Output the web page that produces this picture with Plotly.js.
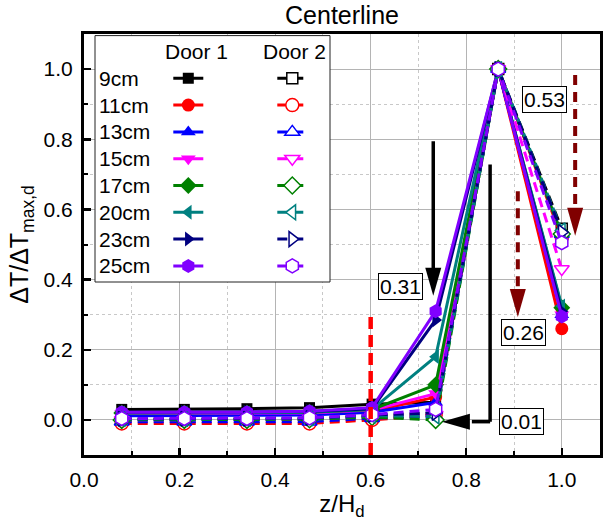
<!DOCTYPE html>
<html><head><meta charset="utf-8">
<script src="https://cdn.plot.ly/plotly-3.0.1.min.js"></script>
<style>html,body{margin:0;padding:0;background:#fff}#chart{width:603px;height:521px}</style>
</head><body><div id="chart"></div>
<script>
// ---- data ----
const zPos = [0.079, 0.210, 0.341, 0.472, 0.603, 0.736, 0.867, 1.0];
const seriesNames = ['9cm', '11cm', '13cm', '15cm', '17cm', '20cm', '23cm', '25cm'];
const seriesColors = ['#000000', '#FF0000', '#0000FF', '#FF00FF', '#008000', '#008080', '#000080', '#8000FF'];
const seriesSymbols = ['square', 'circle', 'triangle-up', 'triangle-down', 'diamond', 'triangle-left', 'triangle-right', 'hexagon'];
const seriesSizes = [11, 13, 13, 13, 13, 13, 13, 14];

// Door 1 (solid, filled)
const door1_9cm  = [0.030, 0.030, 0.032, 0.035, 0.045, 0.050, 1.0, 0.300];
const door1_11cm = [0.015, 0.015, 0.015, 0.017, 0.025, 0.065, 1.0, 0.260];
const door1_13cm = [0.012, 0.012, 0.012, 0.014, 0.022, 0.050, 1.0, 0.300];
const door1_15cm = [0.018, 0.018, 0.018, 0.020, 0.028, 0.075, 1.0, 0.300];
const door1_17cm = [0.020, 0.020, 0.020, 0.022, 0.030, 0.100, 1.0, 0.320];
const door1_20cm = [0.020, 0.020, 0.020, 0.022, 0.030, 0.180, 1.0, 0.325];
const door1_23cm = [0.022, 0.022, 0.022, 0.024, 0.032, 0.285, 1.0, 0.310];
const door1_25cm = [0.022, 0.022, 0.022, 0.025, 0.035, 0.310, 1.0, 0.295];
// Door 2 (dashed, open)
const door2_9cm  = [0.000, 0.000, 0.000, 0.002, 0.010, 0.020, 1.0, 0.545];
const door2_11cm = [-0.010, -0.010, -0.010, -0.010, 0.000, 0.015, 1.0, 0.520];
const door2_13cm = [-0.005, -0.005, -0.005, -0.005, 0.005, 0.010, 1.0, 0.530];
const door2_15cm = [0.000, 0.000, 0.000, 0.002, 0.010, 0.015, 1.0, 0.430];
const door2_17cm = [0.000, 0.000, 0.000, 0.002, 0.008, 0.000, 1.0, 0.530];
const door2_20cm = [0.002, 0.002, 0.002, 0.004, 0.012, 0.010, 1.0, 0.540];
const door2_23cm = [0.003, 0.003, 0.003, 0.005, 0.014, 0.020, 1.0, 0.535];
const door2_25cm = [0.004, 0.004, 0.004, 0.006, 0.015, 0.030, 1.0, 0.505];

const door1Series = [door1_9cm, door1_11cm, door1_13cm, door1_15cm, door1_17cm, door1_20cm, door1_23cm, door1_25cm];
const door2Series = [door2_9cm, door2_11cm, door2_13cm, door2_15cm, door2_17cm, door2_20cm, door2_23cm, door2_25cm];

// annotation labels (text, x, y)
const boxTexts = ['0.31', '0.53', '0.26', '0.01'];
const boxX = [0.662, 0.963, 0.919, 0.915];
const boxY = [0.380, 0.912, 0.250, -0.004];

// ---- styling / layout helpers ----
const FONT = 'Arial, "Liberation Sans", sans-serif';
const X_RANGE = [0, 1.08], Y_RANGE = [-0.1, 1.1];
const M = {l: 84, r: 3, t: 34, b: 66};
const W = 603, H = 521;
const plotW = W - M.l - M.r, plotH = H - M.t - M.b;
const pxX = (X_RANGE[1] - X_RANGE[0]) / plotW;
const pxY = (Y_RANGE[1] - Y_RANGE[0]) / plotH;

const traces = [];
door1Series.forEach((ys, i) => {
  traces.push({
    x: zPos, y: ys, mode: 'lines+markers', name: '', legend: 'legend',
    line: {color: seriesColors[i], width: 3},
    marker: {symbol: seriesSymbols[i], size: seriesSizes[i], color: seriesColors[i], line: {width: 0}},
    hoverinfo: 'skip'
  });
});
door2Series.forEach((ys, i) => {
  traces.push({
    x: zPos, y: ys, mode: 'lines+markers', name: '', legend: 'legend2',
    line: {color: seriesColors[i], width: 3, dash: '10px,6px'},
    marker: {symbol: seriesSymbols[i], size: seriesSizes[i], color: '#FFFFFF', line: {color: seriesColors[i], width: 1.5}},
    hoverinfo: 'skip'
  });
});

// arrows: [x0, y0, x1(tip), y1(tip), color, dashed, direction]
const arrowDefs = [
  [0.731, 0.794, 0.731, 0.354, '#000000', false, 'down'],
  [0.850, -0.005, 0.749, -0.005, '#000000', false, 'left'],
  [0.908, 0.652, 0.908, 0.293, '#800000', true, 'down'],
  [1.028, 0.983, 1.028, 0.525, '#800000', true, 'down']
];
const HEAD_L = 28, HEAD_W = 8;
const shapes = [];
shapes.push({type: 'line', xref: 'x', yref: 'y', x0: 0.850, y0: 0.728, x1: 0.850, y1: -0.005, line: {color: '#000', width: 3.5}, layer: 'above'});
shapes.push({type: 'line', xref: 'x', yref: 'y', x0: 0.6, y0: Y_RANGE[0], x1: 0.6, y1: 0.31, line: {color: '#FF0000', width: 4.5, dash: '12px,6px'}, layer: 'above'});

arrowDefs.forEach(a => {
  const [x0, y0, tx, ty, col, dashed, dir] = a;
  let bx = tx, by = ty, path;
  if (dir === 'down') {
    by = ty + HEAD_L * pxY;
    path = `M ${tx - HEAD_W * pxX},${by} L ${tx + HEAD_W * pxX},${by} L ${tx},${ty} Z`;
  } else {
    bx = tx + HEAD_L * pxX;
    path = `M ${bx},${ty + HEAD_W * pxY} L ${bx},${ty - HEAD_W * pxY} L ${tx},${ty} Z`;
  }
  const ex = dir === 'down' ? tx : bx + 2 * pxX;
  const ey = dir === 'down' ? by - 2 * pxY : ty;
  shapes.push({type: 'line', xref: 'x', yref: 'y', x0: x0, y0: y0, x1: ex, y1: ey,
    line: {color: col, width: dashed ? 4 : 3.5, dash: dashed ? '10px,7px' : 'solid'}, layer: 'above'});
  shapes.push({type: 'path', xref: 'x', yref: 'y', path: path, fillcolor: col, line: {width: 0}, layer: 'above'});
});

const pxToPaperX = px => (px - M.l) / plotW;
const pxToPaperY = py => 1 - (py - M.t) / plotH;
shapes.push({type: 'rect', xref: 'paper', yref: 'paper',
  x0: pxToPaperX(95), x1: pxToPaperX(330), y0: pxToPaperY(282), y1: pxToPaperY(35.6),
  line: {color: '#222', width: 1}, fillcolor: '#FFFFFF', layer: 'above'});

const annotations = [];
boxTexts.forEach((t, i) => {
  annotations.push({x: boxX[i], y: boxY[i], xref: 'x', yref: 'y', text: t, showarrow: false,
    font: {family: FONT, size: 21, color: '#000'}, bgcolor: '#FFFFFF', bordercolor: '#000', borderwidth: 1, borderpad: 1});
});
const ROW0 = 78.3, ROW_STEP = 26.8;
seriesNames.forEach((n, i) => {
  annotations.push({x: pxToPaperX(97), y: pxToPaperY(ROW0 + ROW_STEP * i), xref: 'paper', yref: 'paper',
    xanchor: 'left', yanchor: 'middle', text: n, showarrow: false, font: {family: FONT, size: 21, color: '#000'}});
});
annotations.push({x: pxToPaperX(196.7), y: pxToPaperY(51.7), xref: 'paper', yref: 'paper', xanchor: 'center', yanchor: 'middle',
  text: 'Door 1', showarrow: false, font: {family: FONT, size: 21, color: '#000'}});
annotations.push({x: pxToPaperX(294), y: pxToPaperY(51.7), xref: 'paper', yref: 'paper', xanchor: 'center', yanchor: 'middle',
  text: 'Door 2', showarrow: false, font: {family: FONT, size: 21, color: '#000'}});

const legendFontSize = (ROW_STEP - 3) / 1.3;
const legendCommon = {xanchor: 'left', yanchor: 'top', bgcolor: 'rgba(0,0,0,0)', borderwidth: 0,
  font: {family: FONT, size: legendFontSize}, itemwidth: 30, tracegroupgap: 0, traceorder: 'normal'};

const axisCommon = {
  dtick: 0.2, tick0: 0, tickformat: '.1f', ticks: 'inside', ticklen: 7, tickwidth: 2.5, tickcolor: '#000',
  showline: true, linewidth: 3, linecolor: '#000', mirror: true,
  showgrid: true, gridcolor: '#b4b4b4', gridwidth: 1, zeroline: false,
  tickfont: {family: FONT, size: 21, color: '#000'}, ticklabelstandoff: 4,
  minor: {dtick: 0.1, tick0: 0, ticks: 'inside', ticklen: 4, tickwidth: 2, tickcolor: '#000',
    showgrid: true, gridcolor: '#c8c8c8', griddash: 'dot', gridwidth: 1}
};

const layout = {
  width: W, height: H, margin: M, paper_bgcolor: '#fff', plot_bgcolor: '#fff',
  font: {family: FONT, color: '#000'},
  title: {text: 'Centerline', font: {family: FONT, size: 25, color: '#000'}, x: 0.5, xref: 'paper', xanchor: 'center',
    y: 1 - 15 / H, yref: 'container', yanchor: 'middle'},
  xaxis: Object.assign({}, axisCommon, {range: X_RANGE,
    title: {text: 'z/H<sub>d</sub>', font: {family: FONT, size: 24, color: '#000'}, standoff: 4}}),
  yaxis: Object.assign({}, axisCommon, {range: Y_RANGE,
    title: {text: 'ΔT/ΔT<sub>max,d</sub>', font: {family: FONT, size: 25, color: '#000'}, standoff: 8}}),
  legend: Object.assign({}, legendCommon, {x: pxToPaperX(188.3 - 20), y: pxToPaperY(ROW0 - ROW_STEP / 2 - 5)}),
  legend2: Object.assign({}, legendCommon, {x: pxToPaperX(292.3 - 20), y: pxToPaperY(ROW0 - ROW_STEP / 2 - 5)}),
  shapes: shapes,
  annotations: annotations,
  showlegend: true
};

Plotly.newPlot('chart', traces, layout, {displayModeBar: false, staticPlot: true});
</script>
</body></html>
